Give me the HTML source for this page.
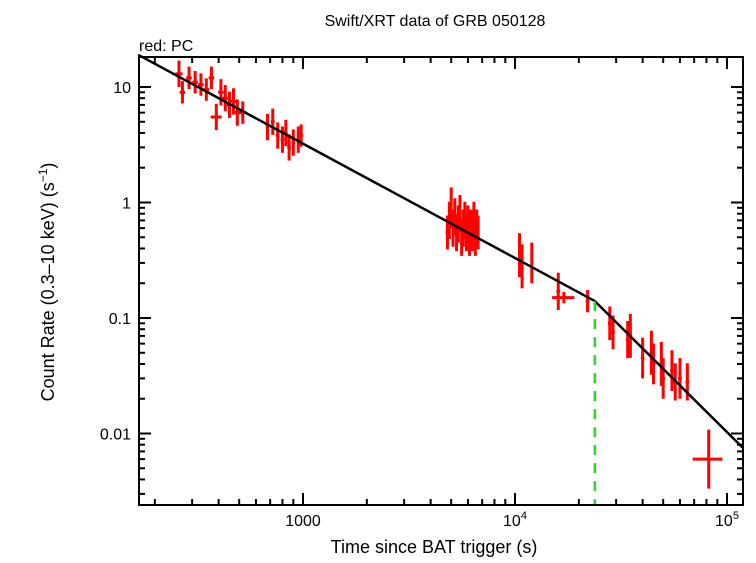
<!DOCTYPE html>
<html><head><meta charset="utf-8"><style>
body{margin:0;background:#fff;}
svg text{font-family:"Liberation Sans",sans-serif;fill:#000;}
</style></head><body>
<svg id="chart" width="756" height="558" xmlns="http://www.w3.org/2000/svg">
<text x="435" y="26" font-size="16" text-anchor="middle">Swift/XRT data of GRB 050128</text>
<text x="139" y="51" font-size="16">red: PC</text>
<text x="434" y="553" font-size="18" text-anchor="middle">Time since BAT trigger (s)</text>
<text transform="translate(54,282) rotate(-90)" font-size="18" text-anchor="middle">Count Rate (0.3–10 keV) (s<tspan dy="-7" font-size="12">−1</tspan><tspan dy="7">)</tspan></text>
<g id="ticks"></g><g id="marks"></g><g id="model"></g>
<rect x="139" y="57" width="604" height="448" fill="none" stroke="#000" stroke-width="2"/>
</svg>
<script>
const times=[260,270,290,310,330,350,370,390,410,430,450,470,490,520,680,720,760,800,830,860,900,950,980,4800,4900,5000,5100,5200,5300,5400,5500,5600,5700,5800,5900,6000,6100,6200,6300,6400,6500,6600,6700,10500,10800,12000,16000,17000,22000,28000,29000,34000,35000,40000,44000,45000,49000,50000,55000,57000,60000,65000,82000];
const rates=[13,9,12,11,10.5,9.5,12,5.5,9,8,7,7.5,6,6,4.5,5,3.8,3.5,4,3,3.3,3.5,3.8,0.55,0.7,0.9,0.6,0.75,0.55,0.65,0.8,0.5,0.6,0.7,0.55,0.65,0.5,0.6,0.55,0.7,0.5,0.6,0.55,0.35,0.28,0.3,0.17,0.15,0.14,0.09,0.075,0.065,0.07,0.045,0.05,0.04,0.04,0.03,0.035,0.028,0.03,0.028,0.006];
const relErr=[0.3,0.25,0.25,0.25,0.25,0.25,0.25,0.3,0.3,0.3,0.3,0.3,0.3,0.25,0.3,0.3,0.3,0.3,0.3,0.3,0.3,0.3,0.25,0.4,0.45,0.5,0.45,0.45,0.45,0.45,0.45,0.45,0.45,0.45,0.45,0.45,0.45,0.45,0.45,0.45,0.45,0.45,0.4,0.55,0.55,0.5,0.45,0.12,0.25,0.4,0.4,0.45,0.55,0.5,0.55,0.5,0.55,0.5,0.5,0.45,0.5,0.45,0.8];
const relTErr=[0.04,0.03,0.03,0.03,0.03,0.03,0.03,0.06,0.03,0.03,0.03,0.03,0.03,0.04,0.02,0.02,0.02,0.02,0.02,0.02,0.02,0.02,0.02,0.02,0.01,0.01,0.01,0.01,0.01,0.01,0.01,0.01,0.01,0.01,0.01,0.01,0.01,0.01,0.01,0.01,0.01,0.01,0.01,0.01,0.01,0.01,0.02,0.12,0.02,0.02,0.02,0.02,0.02,0.02,0.02,0.02,0.02,0.02,0.02,0.02,0.02,0.02,0.16];
const modelT0=167, modelR0=19, breakT=23800, alpha1=0.99, alpha2=1.82, modelTEnd=119000;
const xTicks=[1000,10000,100000], xTickLabels=["1000","10","10"], xTickSup=["","4","5"];
const yTicks=[10,1,0.1,0.01], yTickLabels=["10","1","0.1","0.01"];
const L=139,R=743,T=57,B=505;
const X=t=>303+212*(Math.log10(t)-3);
const Y=r=>318-115.5*Math.log10(r/0.1);
const NS="http://www.w3.org/2000/svg";
function mk(tag,parent,attrs){const e=document.createElementNS(NS,tag);for(const k in attrs)e.setAttribute(k,attrs[k]);parent.appendChild(e);return e;}
const tk=document.getElementById('ticks');
for(let d=2;d<=5;d++)for(let m=1;m<10;m++){const v=m*Math.pow(10,d);const x=X(v);if(x<L||x>R)continue;const len=m===1?12:6;
 const a=mk('line',tk,{x1:x,x2:x,y1:B,y2:B-len,stroke:'#000','stroke-width':2});
 
 
 const b=mk('line',tk,{x1:x,x2:x,y1:T,y2:T+len,stroke:'#000','stroke-width':2});
 
 }
for(let d=-3;d<=1;d++)for(let m=1;m<10;m++){const v=m*Math.pow(10,d);const y=Y(v);if(y<T||y>B)continue;const len=m===1?12:6;
 const a=mk('line',tk,{x1:L,x2:L+len,y1:y,y2:y,stroke:'#000','stroke-width':2});
 
 
 const b=mk('line',tk,{x1:R,x2:R-len,y1:y,y2:y,stroke:'#000','stroke-width':2});
 
 }
xTicks.forEach((v,i)=>{const t=mk('text',tk,{x:X(v),y:B+21,'font-size':16,'text-anchor':'middle'});t.textContent=xTickLabels[i];
 if(xTickSup[i]){const s=mk('tspan',t,{dy:-7,'font-size':11});s.textContent=xTickSup[i];}
 
 });
yTicks.forEach((v,i)=>{const t=mk('text',tk,{x:L-8,y:Y(v)+6,'font-size':16,'text-anchor':'end'});t.textContent=yTickLabels[i];
 
 });
const mg=document.getElementById('marks');
times.forEach((t,i)=>{const r=rates[i],e=relErr[i],te=relTErr[i];
 const g=mk('g',mg,{stroke:'#f00','stroke-width':3});
 
 
 mk('line',g,{x1:X(t),x2:X(t),y1:Y(r*(1+e)),y2:Y(r/(1+e))});
 mk('line',g,{x1:X(t*(1-te)),x2:X(t*(1+te)),y1:Y(r),y2:Y(r)});});
const md=document.getElementById('model');
const rB=modelR0*Math.pow(breakT/modelT0,-alpha1);
const rEnd=rB*Math.pow(modelTEnd/breakT,-alpha2);
const p=mk('polyline',md,{points:`${X(modelT0)},${Y(modelR0)} ${X(breakT)},${Y(rB)} ${X(modelTEnd)},${Y(rEnd)}`,fill:'none',stroke:'#000','stroke-width':2.5});


const br=mk('line',md,{x1:X(breakT),x2:X(breakT),y1:Y(rB),y2:B,stroke:'#2d2','stroke-width':2.5,'stroke-dasharray':'10,8'});


</script>
</body></html>
